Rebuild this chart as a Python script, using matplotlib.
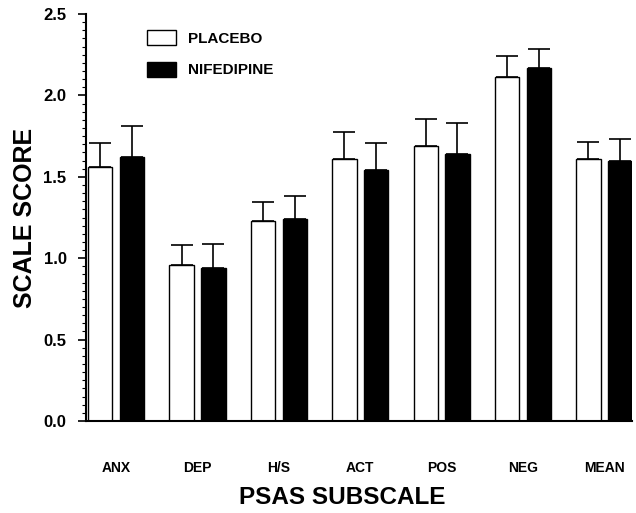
import matplotlib
matplotlib.use("Agg")
import matplotlib.pyplot as plt
from matplotlib.ticker import MultipleLocator
from matplotlib.patches import Patch
import numpy as np

categories = ["ANX", "DEP", "H/S", "ACT", "POS", "NEG", "MEAN"]
placebo = [1.56, 0.96, 1.23, 1.61, 1.69, 2.11, 1.61]
placebo_err = [0.15, 0.12, 0.115, 0.165, 0.165, 0.13, 0.105]
nifedipine = [1.62, 0.94, 1.24, 1.54, 1.64, 2.17, 1.60]
nifedipine_err = [0.19, 0.15, 0.145, 0.17, 0.19, 0.115, 0.135]
yticks = [0.0, 0.5, 1.0, 1.5, 2.0, 2.5]
ytick_labels = ["0.0", "0.5", "1.0", "1.5", "2.0", "2.5"]

plt.rcParams['font.family'] = ['Liberation Sans', 'DejaVu Sans']
plt.rcParams['font.weight'] = 'bold'

fig = plt.figure(figsize=(6.36, 5.13), dpi=100)
ax = fig.add_axes([86/636, 1-421/513, (632-86)/636, (421-14)/513])

x = np.arange(len(categories))
w = 0.30
off = 0.195
ax.bar(x - off, placebo, w, color='white', edgecolor='black', linewidth=1.0,
       yerr=[np.zeros(len(x)), placebo_err], error_kw=dict(ecolor='black', elinewidth=1.2, capsize=8, capthick=1.2),
       label='PLACEBO')
ax.bar(x + off, nifedipine, w, color='black', edgecolor='black', linewidth=1.0,
       yerr=[np.zeros(len(x)), nifedipine_err], error_kw=dict(ecolor='black', elinewidth=1.2, capsize=8, capthick=1.2),
       label='NIFEDIPINE')

ax.set_xlim(-0.37, 6.34)
ax.set_ylim(0, 2.5)
ax.spines['top'].set_visible(False)
ax.spines['right'].set_visible(False)
ax.spines['left'].set_linewidth(1.5)
ax.spines['bottom'].set_linewidth(1.5)

ax.set_yticks(yticks)
ax.set_yticklabels(ytick_labels, fontsize=12, fontweight='bold')
ax.yaxis.set_minor_locator(MultipleLocator(0.05))
ax.tick_params(axis='y', which='major', length=6, width=1.2, direction='out', pad=8)
ax.tick_params(axis='y', which='minor', length=3, width=0.8, direction='out')

ax.set_xticks(x)
ax.set_xticklabels(categories, fontsize=10, fontweight='bold')
ax.tick_params(axis='x', length=0, pad=29)

fig.text(342/636, 1-497/513, "PSAS SUBSCALE", fontsize=17.5, fontweight='bold', ha='center', va='center')
fig.text(25/636, 1-218/513, "SCALE SCORE", fontsize=18, fontweight='bold', ha='center', va='center', rotation=90)

handles = [Patch(facecolor='white', edgecolor='black', linewidth=1.0),
           Patch(facecolor='black', edgecolor='black', linewidth=1.0)]
leg = ax.legend(handles, ['PLACEBO', 'NIFEDIPINE'], loc='upper left',
                bbox_to_anchor=((133-86)/546, 1 - (16-14)/407), frameon=False,
                handlelength=1.9, handleheight=1.15, handletextpad=0.8, labelspacing=1.05,
                prop=dict(family='Liberation Sans', weight='bold', size=11))

fig.savefig("out.png", dpi=100)
